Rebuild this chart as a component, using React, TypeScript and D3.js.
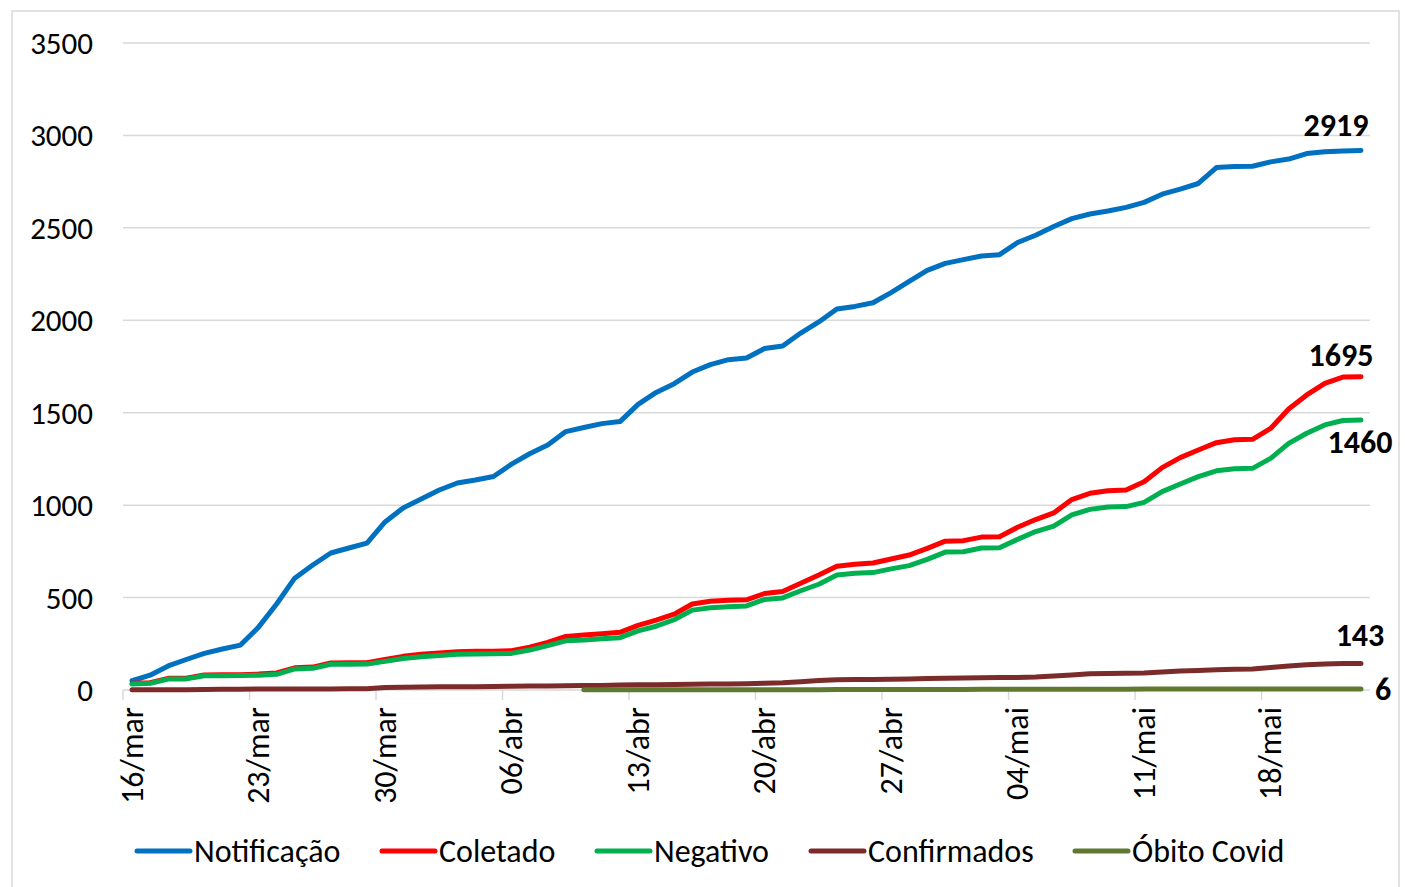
import React from "react";
import * as d3 from "d3";

const tickLabels = ["16/mar", "23/mar", "30/mar", "06/abr", "13/abr", "20/abr", "27/abr", "04/mai", "11/mai", "18/mai"];
const yTicks = [0, 500, 1000, 1500, 2000, 2500, 3000, 3500];

const notificacao = [50, 80, 130, 165, 198, 222, 243, 340, 465, 605, 676, 741, 768, 795, 909, 985, 1033, 1082, 1120, 1136, 1155, 1222, 1278, 1325, 1398, 1420, 1441, 1452, 1545, 1610, 1657, 1720, 1760, 1787, 1796, 1847, 1861, 1931, 1991, 2061, 2075, 2095, 2150, 2210, 2270, 2308, 2328, 2348, 2355, 2421, 2460, 2507, 2550, 2575, 2591, 2611, 2638, 2682, 2710, 2740, 2826, 2832, 2833, 2857, 2872, 2902, 2912, 2916, 2919];
const coletado = [36, 39, 63, 64, 81, 82, 83, 86, 92, 120, 124, 146, 147, 148, 165, 182, 193, 200, 207, 209, 210, 213, 232, 258, 290, 298, 304, 312, 350, 378, 410, 465, 480, 485, 488, 522, 533, 577, 622, 670, 680, 687, 709, 730, 766, 805, 808, 827, 829, 880, 922, 958, 1030, 1064, 1078, 1082, 1127, 1203, 1257, 1298, 1338, 1354, 1356, 1415, 1520, 1596, 1659, 1693, 1695];
const negativo = [32, 36, 59, 60, 77, 77, 78, 80, 85, 114, 117, 139, 139, 140, 155, 170, 180, 187, 193, 195, 196, 198, 216, 240, 266, 270, 277, 283, 320, 345, 380, 432, 445, 450, 455, 490, 498, 537, 572, 622, 631, 635, 655, 673, 707, 746, 748, 768, 770, 815, 857, 887, 947, 977, 990, 992, 1015, 1073, 1114, 1154, 1186, 1197, 1199, 1253, 1334, 1389, 1434, 1458, 1460];
const confirmados = [1, 1, 2, 2, 3, 4, 4, 5, 5, 6, 6, 6, 7, 7, 14, 15, 16, 17, 18, 18, 19, 20, 21, 22, 23, 24, 25, 27, 28, 29, 30, 31, 32, 33, 34, 37, 39, 45, 51, 56, 57, 57, 58, 60, 62, 64, 65, 66, 67, 68, 70, 76, 81, 88, 89, 90, 92, 98, 103, 106, 110, 112, 113, 122, 130, 136, 141, 143, 143];
const obito: (number | null)[] = [null, null, null, null, null, null, null, null, null, null, null, null, null, null, null, null, null, null, null, null, null, null, null, null, null, 1, 1, 1, 1, 1, 1, 2, 2, 2, 2, 2, 2, 2, 2, 3, 3, 3, 3, 3, 3, 3, 3, 4, 4, 4, 4, 4, 4, 4, 4, 4, 5, 5, 5, 5, 5, 5, 5, 5, 6, 6, 6, 6, 6];

const seriesNames = ["Notificação", "Coletado", "Negativo", "Confirmados", "Óbito Covid"];
const seriesColors = ["#0070C0", "#FF0000", "#00B050", "#7B2C2A", "#5F7A30"];
const seriesData: (number | null)[][] = [notificacao, coletado, negativo, confirmados, obito];
const endLabels = ["2919", "1695", "1460", "143", "6"];

const FONT = "Carlito, Calibri, 'Liberation Sans Narrow', 'DejaVu Sans Condensed', sans-serif";

export default function App() {
  const W = 1405, H = 887;
  const n = notificacao.length;
  const idx = d3.range(n);
  const x = d3.scaleBand<number>().domain(idx).range([123, 1370]).paddingInner(0).paddingOuter(0);
  const bw = x.bandwidth();
  const cx = (i: number) => (x(i) as number) + bw / 2;
  const y = d3.scaleLinear().domain([0, 3500]).range([690, 43]);

  const line = d3.line<number | null>()
    .defined((d) => d !== null)
    .x((_, i) => cx(i))
    .y((d) => y(d as number));

  const tickIdx = tickLabels.map((_, k) => k * 7);
  const last = n - 1;
  const lx = cx(last);
  const labelPos = [
    { dx: -25, dy: -14, anchor: "middle" },
    { dx: -20, dy: -11, anchor: "middle" },
    { dx: -1, dy: 33, anchor: "middle" },
    { dx: -1, dy: -18, anchor: "middle" },
    { dx: 14, dy: 11, anchor: "start" },
  ];
  const legendX = [137, 382, 597, 811, 1075];

  return (
    <svg width={W} height={H} style={{ position: "absolute", left: 0, top: 0, background: "#fff" }} fontFamily={FONT}>
      <rect x={12} y={11} width={1387} height={H + 10} fill="#fff" stroke="#d9d9d9" strokeWidth={1.5} />
      {yTicks.map((t) => (
        <g key={t}>
          <line x1={123} x2={1370} y1={y(t)} y2={y(t)} stroke="#d9d9d9" strokeWidth={1.5} />
          <text x={93} y={y(t)} textAnchor="end" dominantBaseline="central" fontSize={31} fill="#000">{t}</text>
        </g>
      ))}
      {tickIdx.map((i, k) => (
        <g key={k}>
          <line x1={x(i) as number} x2={x(i) as number} y1={690} y2={700} stroke="#d9d9d9" strokeWidth={1.5} />
          <text transform={`translate(${cx(i)},707) rotate(-90)`} textAnchor="end" dominantBaseline="central" fontSize={32} fill="#000">{tickLabels[k]}</text>
        </g>
      ))}
      {seriesData.map((s, k) => (
        <path key={k} d={line(s) || ""} fill="none" stroke={seriesColors[k]} strokeWidth={5} strokeLinejoin="round" strokeLinecap="round" />
      ))}
      {seriesData.map((s, k) => (
        <text key={k} x={lx + labelPos[k].dx} y={y(s[last] as number) + labelPos[k].dy} textAnchor={labelPos[k].anchor as any} fontSize={32} fontWeight="bold" fill="#000">{endLabels[k]}</text>
      ))}
      {seriesNames.map((nm, k) => (
        <g key={nm}>
          <line x1={legendX[k]} x2={legendX[k] + 53} y1={851} y2={851} stroke={seriesColors[k]} strokeWidth={5} strokeLinecap="round" />
          <text x={legendX[k] + 57} y={851} dominantBaseline="central" fontSize={32} fill="#000">{nm}</text>
        </g>
      ))}
    </svg>
  );
}
